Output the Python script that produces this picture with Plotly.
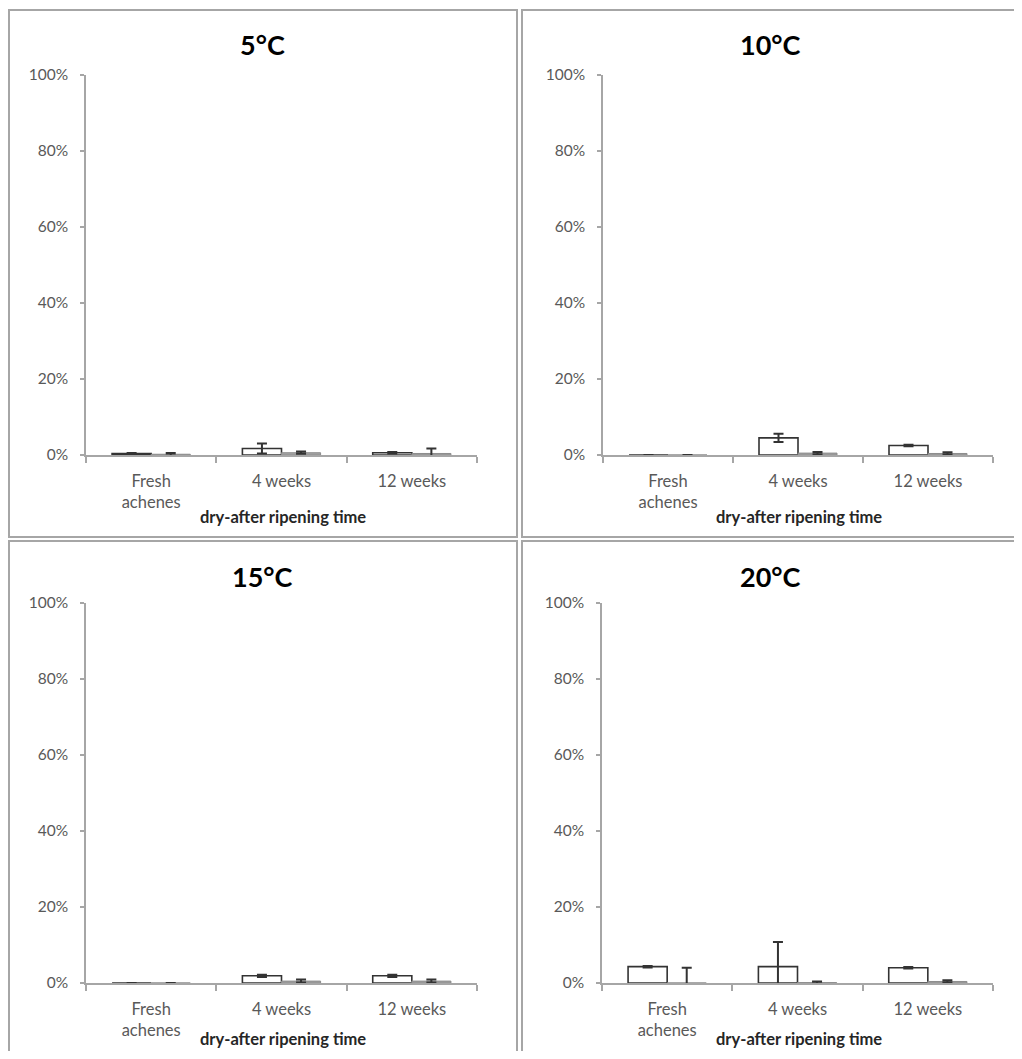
import plotly.graph_objects as go

# page is 1022x1059; the html body has an 8px margin, so the figure is
# sized to fit inside it and reference pixel positions are shifted by OFF
PAGE_W, PAGE_H = 1022, 1059
OFF = 8
W, H = PAGE_W - 2 * OFF, PAGE_H - 2 * OFF

categories = ["Fresh<br>achenes", "4 weeks", "12 weeks"]
panel_titles = ["5°C", "10°C", "15°C", "20°C"]

# series 1 (white bars)
white_5 = [0.4, 1.7, 0.6]
white_10 = [0.0, 4.5, 2.5]
white_15 = [0.0, 1.9, 1.9]
white_20 = [4.3, 4.3, 4.0]
white_err_5 = [0.1, 1.3, 0.2]
white_err_10 = [0.0, 1.1, 0.2]
white_err_15 = [0.0, 0.3, 0.3]
white_err_20 = [0.2, 6.5, 0.2]

# series 2 (grey bars)
grey_5 = [0.2, 0.6, 0.4]
grey_10 = [0.0, 0.5, 0.4]
grey_15 = [0.0, 0.5, 0.5]
grey_20 = [0.0, 0.1, 0.4]
grey_err_5 = [0.3, 0.3, 1.3]
grey_err_10 = [0.0, 0.3, 0.3]
grey_err_15 = [0.0, 0.4, 0.4]
grey_err_20 = [4.0, 0.3, 0.3]

y_ticks = [0, 20, 40, 60, 80, 100]
y_ticktext = ["0%", "20%", "40%", "60%", "80%", "100%"]
x_title = "dry-after ripening time"

whites = [white_5, white_10, white_15, white_20]
white_errs = [white_err_5, white_err_10, white_err_15, white_err_20]
greys = [grey_5, grey_10, grey_15, grey_20]
grey_errs = [grey_err_5, grey_err_10, grey_err_15, grey_err_20]

# plot areas in reference pixels: (x0, x1, ytop, ybottom)
areas = [
    (86, 477, 75, 455),
    (603, 993, 75, 455),
    (86, 477, 603, 983),
    (602, 993, 603, 983),
]
# panel frames in reference pixels: (x0, x1, ytop, ybottom)
frames = [
    (9, 517, 10, 537),
    (522, 1021, 10, 537),
    (9, 517, 541, 1080),
    (522, 1021, 541, 1080),
]

FONT = "Lato, 'Open Sans', Arial, sans-serif"
AXIS_C = "#a6a6a6"
TXT_C = "#595959"
BAR_LINE = "#333333"


def px_x(p):
    return (p - OFF) / W


def px_y(p):
    return 1 - (p - OFF) / H


fig = go.Figure()
layout = dict(
    width=W, height=H,
    margin=dict(l=0, r=0, t=0, b=0, autoexpand=False),
    paper_bgcolor="white", plot_bgcolor="white",
    showlegend=False,
    barmode="group", bargap=0.4, bargroupgap=0.0,
    font=dict(family=FONT, color=TXT_C),
    shapes=[], annotations=[],
)

for i in range(4):
    sfx = "" if i == 0 else str(i + 1)
    xa, ya = "x" + sfx, "y" + sfx
    fig.add_trace(go.Bar(
        x=categories, y=whites[i], xaxis=xa, yaxis=ya, name="series 1",
        marker=dict(color="white", line=dict(color=BAR_LINE, width=1.6)),
        error_y=dict(type="data", array=white_errs[i], color=BAR_LINE,
                     thickness=2, width=5),
    ))
    fig.add_trace(go.Bar(
        x=categories, y=greys[i], xaxis=xa, yaxis=ya, name="series 2",
        marker=dict(color="#a3a3a3", line=dict(color="#8c8c8c", width=1)),
        error_y=dict(type="data", array=grey_errs[i], color=BAR_LINE,
                     thickness=2, width=5),
    ))
    x0, x1, yt, yb = areas[i]
    layout["xaxis" + sfx] = dict(
        domain=[px_x(x0), px_x(x1)], anchor=ya,
        showline=True, linecolor=AXIS_C, linewidth=1.5,
        ticks="outside", tickson="boundaries", ticklen=6, tickcolor=AXIS_C,
        tickwidth=1.5, showgrid=False, zeroline=False,
        tickfont=dict(size=16.5, color=TXT_C, family=FONT),
        ticklabelstandoff=10,
    )
    layout["yaxis" + sfx] = dict(
        domain=[px_y(yb), px_y(yt)], anchor=xa,
        range=[0, 100], tickvals=y_ticks, ticktext=y_ticktext,
        showline=True, linecolor=AXIS_C, linewidth=1.5,
        ticks="outside", ticklen=4, tickcolor=AXIS_C, tickwidth=1.5,
        showgrid=False, zeroline=False,
        tickfont=dict(size=15.5, color=TXT_C, family=FONT),
        ticklabelstandoff=9,
    )
    fx0, fx1, fy0, fy1 = frames[i]
    layout["shapes"].append(dict(
        type="rect", xref="paper", yref="paper",
        x0=px_x(fx0), x1=px_x(fx1), y0=px_y(fy1), y1=px_y(fy0),
        line=dict(color="#a6a6a6", width=2), fillcolor="rgba(0,0,0,0)",
        layer="below",
    ))
    # panel title
    layout["annotations"].append(dict(
        text="<b>%s</b>" % panel_titles[i], xref="paper", yref="paper",
        x=px_x((fx0 + fx1) / 2 - 1), y=px_y(fy0 + 35), xanchor="center",
        yanchor="middle", showarrow=False,
        font=dict(size=27, color="#000000", family=FONT),
    ))
    # x axis title (bottom row kept inside the figure's lower edge)
    bottom_row = i >= 2
    layout["annotations"].append(dict(
        text="<b>%s</b>" % x_title, xref="paper", yref="paper",
        x=px_x((x0 + x1) / 2 + 1),
        y=0 if bottom_row else px_y(yb + 62),
        xanchor="center",
        yanchor="bottom" if bottom_row else "middle",
        showarrow=False,
        font=dict(size=16.5, color="#262626", family=FONT),
    ))

fig.update_layout(**layout)
fig.write_html("out.html")
